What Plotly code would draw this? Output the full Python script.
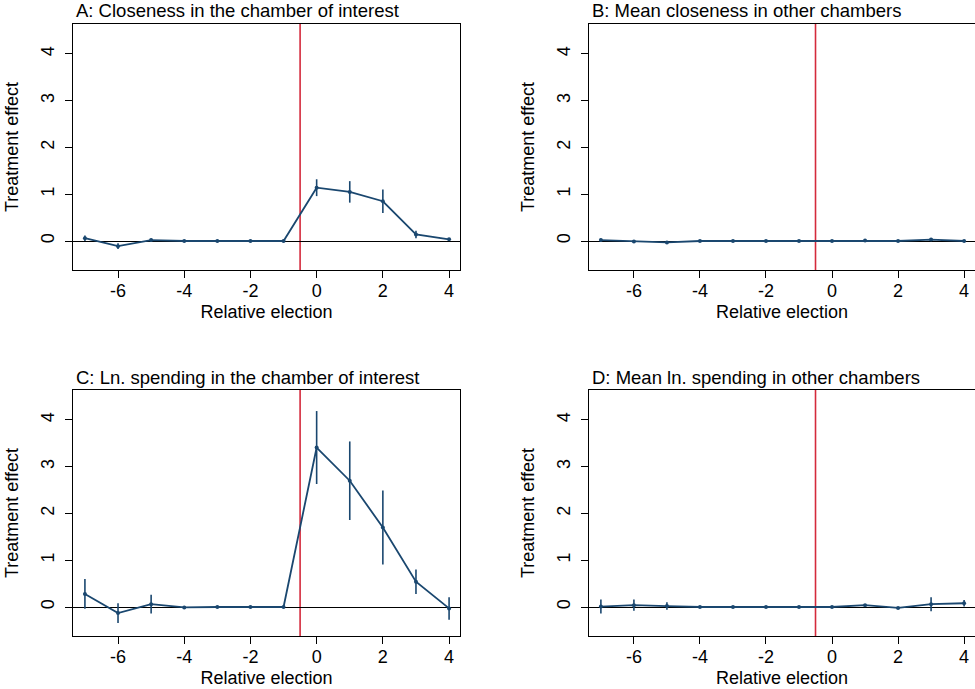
import plotly.graph_objects as go

rel_election = [-7, -6, -5, -4, -3, -2, -1, 0, 1, 2, 3, 4]

panel_titles = [
    "A: Closeness in the chamber of interest",
    "B: Mean closeness in other chambers",
    "C: Ln. spending in the chamber of interest",
    "D: Mean ln. spending in other chambers",
]

a_est = [0.06, -0.11, 0.02, 0.0, 0.0, 0.0, 0.0, 1.14, 1.05, 0.85, 0.14, 0.035]
a_ci = [0.06, 0.06, 0.03, 0.0, 0.0, 0.0, 0.0, 0.18, 0.23, 0.25, 0.08, 0.03]

b_est = [0.02, -0.01, -0.03, 0.0, 0.0, 0.0, 0.0, 0.0, 0.01, 0.0, 0.03, 0.0]
b_ci = [0.03, 0.01, 0.01, 0.0, 0.0, 0.0, 0.0, 0.0, 0.01, 0.0, 0.01, 0.0]

c_est = [0.28, -0.13, 0.06, -0.01, 0.0, 0.0, 0.0, 3.41, 2.70, 1.70, 0.54, -0.03]
c_ci = [0.32, 0.21, 0.20, 0.0, 0.0, 0.0, 0.0, 0.78, 0.84, 0.79, 0.26, 0.24]

d_est = [0.01, 0.04, 0.02, 0.0, 0.0, 0.0, 0.0, 0.0, 0.04, -0.02, 0.06, 0.08]
d_ci = [0.15, 0.12, 0.08, 0.0, 0.0, 0.0, 0.0, 0.0, 0.01, 0.01, 0.15, 0.07]

y_ticks = [0, 1, 2, 3, 4]
x_ticks = [-6, -4, -2, 0, 2, 4]
x_tick_labels = ["-6", "-4", "-2", "0", "2", "4"]
event_line_x = -0.5

NAVY = "#1a476f"
RED = "#d42a3c"
FONT = "Liberation Sans, Arial, Helvetica, sans-serif"

W, H = 975, 689
# pixel boxes: (left, right, top, bottom)
boxes = [(73, 460, 24, 270), (589, 976, 24, 270), (73, 460, 390, 636), (589, 976, 390, 636)]
series = [(a_est, a_ci), (b_est, b_ci), (c_est, c_ci), (d_est, d_ci)]

fig = go.Figure()
layout = dict(
    width=W, height=H,
    margin=dict(l=0, r=0, t=0, b=0),
    paper_bgcolor="white", plot_bgcolor="white",
    showlegend=False,
    font=dict(family=FONT, size=18, color="black"),
    annotations=[], shapes=[],
)

for i, ((l, r, t, b), (est, ci)) in enumerate(zip(boxes, series)):
    n = i + 1
    xa = "x" if n == 1 else f"x{n}"
    ya = "y" if n == 1 else f"y{n}"
    xkey = "xaxis" if n == 1 else f"xaxis{n}"
    ykey = "yaxis" if n == 1 else f"yaxis{n}"
    xd = [l / W, min(r / W, 1.0)]
    yd = [1 - b / H, 1 - t / H]
    fig.add_trace(go.Scatter(
        x=rel_election, y=est, xaxis=xa, yaxis=ya,
        mode="lines+markers",
        line=dict(color=NAVY, width=1.8),
        marker=dict(color=NAVY, size=4),
        error_y=dict(type="data", array=ci, visible=True, color=NAVY, thickness=1.6, width=0),
        cliponaxis=False,
    ))
    layout[xkey] = dict(
        domain=xd, anchor=ya, range=[-7.36, 4.33],
        tickvals=x_ticks, ticktext=x_tick_labels,
        ticks="outside", ticklen=7, tickwidth=1, tickcolor="black",
        showline=True, linecolor="black", linewidth=1.2, mirror=True,
        showgrid=False, zeroline=False, ticklabelstandoff=-3,
        tickfont=dict(size=18), automargin=False,
        title=dict(text="Relative election", font=dict(size=18), standoff=5),
    )
    layout[ykey] = dict(
        domain=yd, anchor=xa, range=[-0.62, 4.64],
        tickvals=y_ticks, ticks="outside", ticklen=7, tickwidth=1, tickcolor="black",
        showline=True, linecolor="black", linewidth=1.2, mirror=True,
        showgrid=False, zeroline=True, zerolinecolor="black", zerolinewidth=1,
        tickangle=-90, tickfont=dict(size=18), automargin=False, ticklabelstandoff=4,
        title=dict(text="Treatment effect", font=dict(size=18), standoff=14),
    )
    layout["shapes"].append(dict(
        type="line", xref=xa, yref=f"{ya} domain", x0=event_line_x, x1=event_line_x,
        y0=0, y1=1, line=dict(color=RED, width=1.6), layer="below",
    ))
    layout["annotations"].append(dict(
        text=panel_titles[i], xref="paper", yref="paper",
        x=(l + 1) / W, y=1 - (t - 13) / H, xanchor="left", yanchor="middle",
        showarrow=False, font=dict(size=18.5),
    ))

fig.update_layout(**layout)
fig.write_html("out.html")
